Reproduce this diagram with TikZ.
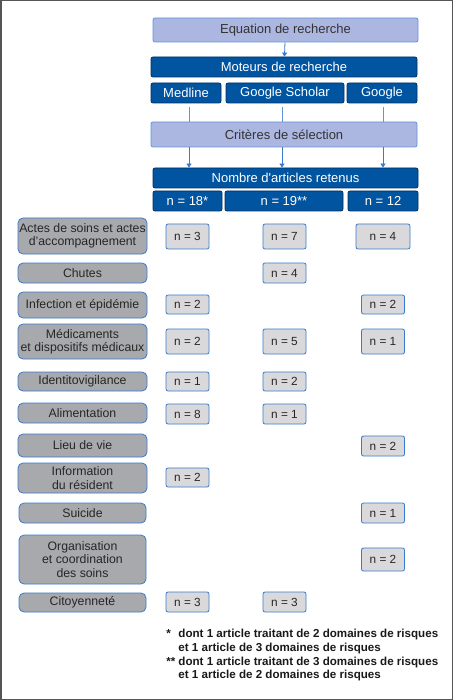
\documentclass[tikz,border=0pt]{standalone}
\usepackage{fontspec}
\setmainfont{Liberation Sans}
\usepackage{tikz}
\usetikzlibrary{positioning, arrows.meta}

\definecolor{darkblue}{RGB}{0,84,160}
\definecolor{darkline}{RGB}{0,48,98}
\definecolor{lightblue}{RGB}{172,183,225}
\definecolor{lightline}{RGB}{98,148,218}
\definecolor{catgray}{RGB}{167,169,172}
\definecolor{valgray}{RGB}{217,217,219}
\definecolor{boxline}{RGB}{58,122,205}
\definecolor{framegray}{RGB}{85,85,85}

\tikzset{
  hdrdark/.style={draw=darkline, fill=darkblue, text=white, rounded corners=2pt, inner sep=0pt, font=\fontsize{13}{14}\selectfont},
  hdrlight/.style={draw=lightline, fill=lightblue, text=black!80, rounded corners=2pt, inner sep=0pt, font=\fontsize{13}{14}\selectfont},
  catbox/.style={draw=boxline, fill=catgray, text=black!85, rounded corners=5pt, inner sep=0pt, align=center, font=\fontsize{12.3}{13.5}\selectfont},
  valbox/.style={draw=boxline, fill=valgray, text=black!85, rounded corners=2pt, inner sep=0pt, minimum width=43pt, font=\fontsize{11.8}{13}\selectfont},
  link/.style={lightline, line width=0.8pt},
  flow/.style={boxline, line width=0.8pt, -{Triangle[length=4pt,width=5pt]}}
}

\begin{document}
\begin{tikzpicture}[x=1pt, y=-1pt, line width=0.8pt]
        \useasboundingbox (0,0) rectangle (453,700);
        \draw[framegray, line width=1.5pt] (0.75,0.75) rectangle (452.25,699.25);

        % Search part
        \node[hdrlight, minimum width=265pt, minimum height=24pt] (equation) at (285.5,30) {Equation de recherche};
        \node[hdrdark, minimum width=266pt, minimum height=20pt] (moteurs) at (284,67) {Moteurs de recherche};
        \node[hdrdark, minimum width=70pt, minimum height=20pt] (medline) at (186,93) {Medline};
        \node[hdrdark, minimum width=118pt, minimum height=20pt] (scholar) at (285,93) {Google Scholar};
        \node[hdrdark, minimum width=70pt, minimum height=20pt] (google) at (382,93) {Google};
        \node[hdrlight, minimum width=266pt, minimum height=25pt] (criteres) at (284,134.5) {Critères de sélection};
        \node[hdrdark, minimum width=265pt, minimum height=20pt] (nombre) at (285.5,178) {Nombre d\textquotesingle articles retenus};
        \node[hdrdark, minimum width=69pt, minimum height=20pt] (nmed) at (187.5,201) {n = 18*};
        \node[hdrdark, minimum width=118pt, minimum height=20pt] (nsch) at (284,201) {n = 19**};
        \node[hdrdark, minimum width=70pt, minimum height=20pt] (ngoo) at (383,201) {n = 12};

        \draw[flow] (equation) -- (moteurs);
        \foreach \src/\dx in {medline/3, scholar/-3, google/1} {
            \draw[link] ([xshift=\dx pt, yshift=-4pt]\src.south) -- ([xshift=\dx pt]\src.south |- criteres.north);
            \draw[flow] ([xshift=\dx pt]\src.south |- criteres.south) -- ([xshift=\dx pt]\src.south |- nombre.north);
        }

        % Risk domains
        \node[catbox, minimum width=129pt, minimum height=36pt] (actes) at (82.5,236) {Actes de soins et actes\\d’accompagnement};
        \node[catbox, minimum width=129pt, minimum height=20pt] (chutes) at (82.5,273) {Chutes};
        \node[catbox, minimum width=129pt, minimum height=26pt] (infection) at (82.5,305) {Infection et épidémie};
        \node[catbox, minimum width=129pt, minimum height=35pt] (medic) at (82.5,341.5) {Médicaments\\et dispositifs médicaux};
        \node[catbox, minimum width=129pt, minimum height=19pt] (identito) at (82.5,381.5) {Identitovigilance};
        \node[catbox, minimum width=129pt, minimum height=20pt] (alim) at (82.5,413) {Alimentation};
        \node[catbox, minimum width=129pt, minimum height=23pt] (lieu) at (82.5,445.5) {Lieu de vie};
        \node[catbox, minimum width=129pt, minimum height=30pt] (info) at (82.5,478) {Information\\du résident};
        \node[catbox, minimum width=127pt, minimum height=20pt] (suicide) at (82.5,513) {Suicide};
        \node[catbox, minimum width=127pt, minimum height=49pt] (orga) at (82.5,559.5) {Organisation\\et coordination\\des soins};
        \node[catbox, minimum width=127pt, minimum height=19pt] (citoy) at (82.5,602.5) {Citoyenneté};

        % Counts per engine
        \node[valbox, minimum height=25pt] (actesA) at (187.5,236.5) {n = 3};
        \node[valbox, minimum height=25pt] (actesB) at (284.5,236.5) {n = 7};
        \node[valbox, minimum height=25pt, minimum width=54pt] (actesC) at (383,236.5) {n = 4};
        \foreach \nm/\x/\y/\h/\v in {chutesB/284.5/273/20/4, infectionA/187.5/304.5/19/2, infectionC/383/304.5/19/2,
            medicA/187.5/341.5/25/2, medicB/284.5/341.5/25/5, medicC/383/341.5/25/1,
            identitoA/187.5/381.5/19/1, identitoB/284.5/381.5/19/2, alimA/187.5/414/20/8, alimB/284.5/414/20/1,
            lieuC/383/446/20/2, infoA/187.5/477.5/19/2, suicideC/383/513/20/1, orgaC/383/559.5/23/2,
            citoyA/187.5/602/20/3, citoyB/284.5/602/20/3}
            \node[valbox, minimum height=\h pt] (\nm) at (\x,\y) {n = \v};

        % Notes
        \node[anchor=north west, inner sep=0pt, text=black!90, font=\bfseries\fontsize{11.6}{13.6}\selectfont] (notes) at (166,628)
            {\begin{tabular}{@{}l@{\hspace{3pt}}l@{}}
            {*} & dont 1 article traitant de 2 domaines de risques\\
                & et 1 article de 3 domaines de risques\\
            {**} & dont 1 article traitant de 3 domaines de risques\\
                & et 1 article de 2 domaines de risques
            \end{tabular}};
\end{tikzpicture}
\end{document}
